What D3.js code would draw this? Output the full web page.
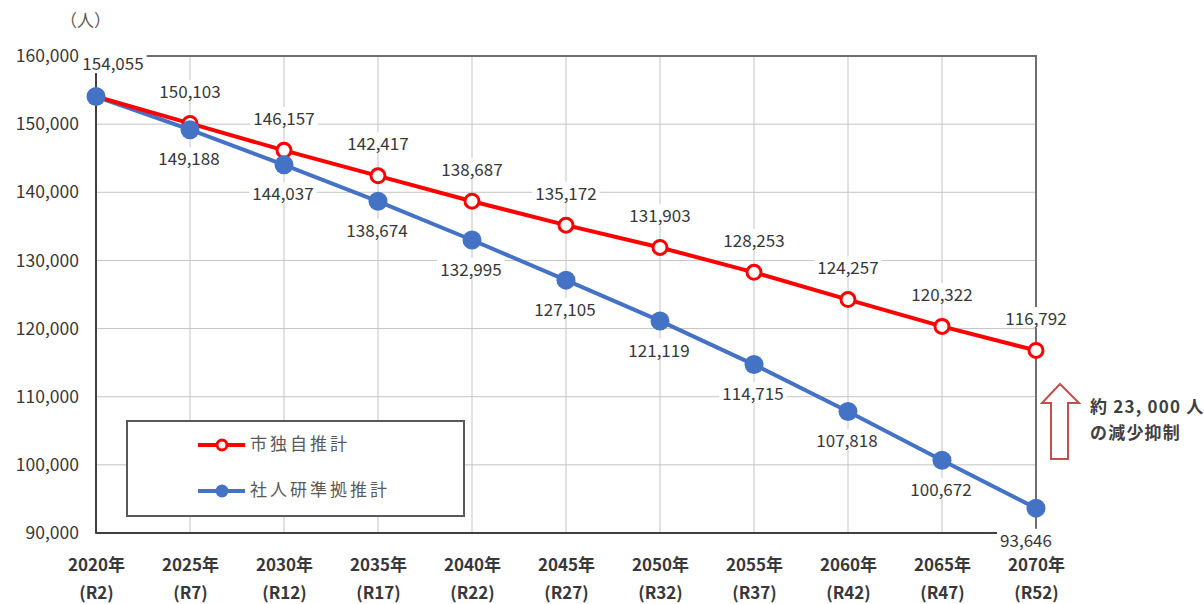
<!DOCTYPE html>
<html><head><meta charset="utf-8">
<script src="https://cdn.jsdelivr.net/npm/d3@7"></script>
<style>body{margin:0;background:#fff}svg{display:block}</style>
</head><body>
<svg id="c" width="1204" height="604"></svg>
<script>
const years = ["2020年","2025年","2030年","2035年","2040年","2045年","2050年","2055年","2060年","2065年","2070年"];
const reiwa = ["(R2)","(R7)","(R12)","(R17)","(R22)","(R27)","(R32)","(R37)","(R42)","(R47)","(R52)"];
const cityValues = [154055,150103,146157,142417,138687,135172,131903,128253,124257,120322,116792];
const ipssValues = [154055,149188,144037,138674,132995,127105,121119,114715,107818,100672,93646];
const yTicks = [90000,100000,110000,120000,130000,140000,150000,160000];
const seriesNames = ["市独自推計","社人研準拠推計"];
const unitLabel = "（人）";
const noteLines = ["約 23, 000 人","の減少抑制"];

const svg = d3.select("#c");
const font = "'Noto Sans CJK JP','Noto Sans',sans-serif";
const L=96, R=1036, T=56, B=533;
const x = d3.scalePoint().domain(years).range([L,R]);
const y = d3.scaleLinear().domain([90000,160000]).range([B,T]);
const fmt = d3.format(",");
const RED="#ff0000", BLUE="#4472c4", TXT="#383838";

// gridlines
const g = svg.append("g");
g.selectAll(".hg").data(yTicks).join("line")
 .attr("x1",L).attr("x2",R).attr("y1",d=>y(d)).attr("y2",d=>y(d))
 .attr("stroke","#c4c4c4").attr("stroke-width",1);
g.selectAll(".vg").data(years).join("line")
 .attr("x1",d=>x(d)).attr("x2",d=>x(d)).attr("y1",T).attr("y2",B)
 .attr("stroke","#c4c4c4").attr("stroke-width",1);
// border
svg.append("rect").attr("x",L).attr("y",T).attr("width",R-L).attr("height",B-T)
 .attr("fill","none").attr("stroke","#6f6f6f").attr("stroke-width",2);
svg.append("line").attr("x1",L).attr("x2",L).attr("y1",T).attr("y2",B).attr("stroke","#404040").attr("stroke-width",2);
svg.append("line").attr("x1",L).attr("x2",R).attr("y1",B).attr("y2",B).attr("stroke","#404040").attr("stroke-width",2);

// y axis
const ya = svg.append("g").attr("transform",`translate(${L},0)`)
 .call(d3.axisLeft(y).tickValues(yTicks).tickFormat(fmt).tickSize(0).tickPadding(17));
ya.select(".domain").remove();
ya.selectAll("text").attr("font-family",font).attr("font-size",17.5).attr("fill",TXT);
svg.append("text").attr("x",60).attr("y",27).attr("font-family",font).attr("font-size",17).attr("fill","#595959").text(unitLabel);

// x axis
const xa = svg.append("g").attr("transform",`translate(0,${B})`)
 .call(d3.axisBottom(x).tickSize(0).tickPadding(0).tickFormat(""));
xa.select(".domain").remove();
xa.selectAll(".tick").each(function(d,i){
  const t=d3.select(this);
  t.append("text").attr("y",38).attr("text-anchor","middle").attr("font-family",font).attr("font-size",17).attr("font-weight","bold").attr("fill",TXT).text(d);
  t.append("text").attr("y",66).attr("text-anchor","middle").attr("font-family",font).attr("font-size",17).attr("font-weight","bold").attr("fill",TXT).text(reiwa[i]);
});

const line = d3.line().x((d,i)=>x(years[i])).y(d=>y(d));
// labels with white bg
function label(px,py,txt){
  const t = svg.append("text").attr("x",px).attr("y",py).attr("text-anchor","middle").attr("dominant-baseline","middle")
    .attr("font-family",font).attr("font-size",17).attr("fill",TXT).text(txt);
  const bb=t.node().getBBox();
  svg.insert("rect",()=>t.node()).attr("x",bb.x-3).attr("y",bb.y+2).attr("width",bb.width+6).attr("height",bb.height-4).attr("fill","#fff");
}
cityValues.forEach((v,i)=>{ label(x(years[i])+(i===0?17:0), y(v)-(i===0?31:30), fmt(v)); });
ipssValues.forEach((v,i)=>{ if(i===0)return; label(x(years[i])+(i===10?-10:-1), y(v)+(i===10?34:31), fmt(v)); });

svg.append("path").datum(ipssValues).attr("d",line).attr("fill","none").attr("stroke",BLUE).attr("stroke-width",4);
svg.append("path").datum(cityValues).attr("d",line).attr("fill","none").attr("stroke",RED).attr("stroke-width",4);
svg.selectAll(".pc").data(cityValues).join("circle").attr("cx",(d,i)=>x(years[i])).attr("cy",d=>y(d)).attr("r",7)
 .attr("fill","#fff").attr("stroke",RED).attr("stroke-width",3);
svg.selectAll(".pb").data(ipssValues).join("circle").attr("cx",(d,i)=>x(years[i])).attr("cy",d=>y(d)).attr("r",9.5)
 .attr("fill",BLUE);

// legend
const lg = svg.append("g");
lg.append("rect").attr("x",127).attr("y",421).attr("width",337).attr("height",95).attr("fill","#fff").attr("stroke","#595959").attr("stroke-width",2);
[[RED,445,true],[BLUE,491,false]].forEach(([c,yy,hollow],i)=>{
  lg.append("line").attr("x1",198).attr("x2",245).attr("y1",yy).attr("y2",yy).attr("stroke",c).attr("stroke-width",4);
  if(hollow) lg.append("circle").attr("cx",222).attr("cy",yy).attr("r",5).attr("fill","#fff").attr("stroke",c).attr("stroke-width",3);
  else lg.append("circle").attr("cx",222).attr("cy",yy).attr("r",6.5).attr("fill",c);
  lg.append("text").attr("x",250).attr("y",yy).attr("dominant-baseline","middle").attr("font-family",font).attr("font-size",17).attr("letter-spacing",3).attr("fill","#595959").text(seriesNames[i]);
});

// annotation arrow
svg.append("path").attr("d","M1060,384 L1079,403 L1068,403 L1068,459 L1051,459 L1051,403 L1042,403 Z")
 .attr("fill","#fff").attr("stroke","#c0504d").attr("stroke-width",2);
noteLines.forEach((t,i)=>svg.append("text").attr("x",1090).attr("y",408+i*26).attr("dominant-baseline","middle")
 .attr("font-family",font).attr("font-size",17).attr("font-weight","bold").attr("letter-spacing",1.2).attr("fill","#404040").text(t));
</script>
</body></html>
